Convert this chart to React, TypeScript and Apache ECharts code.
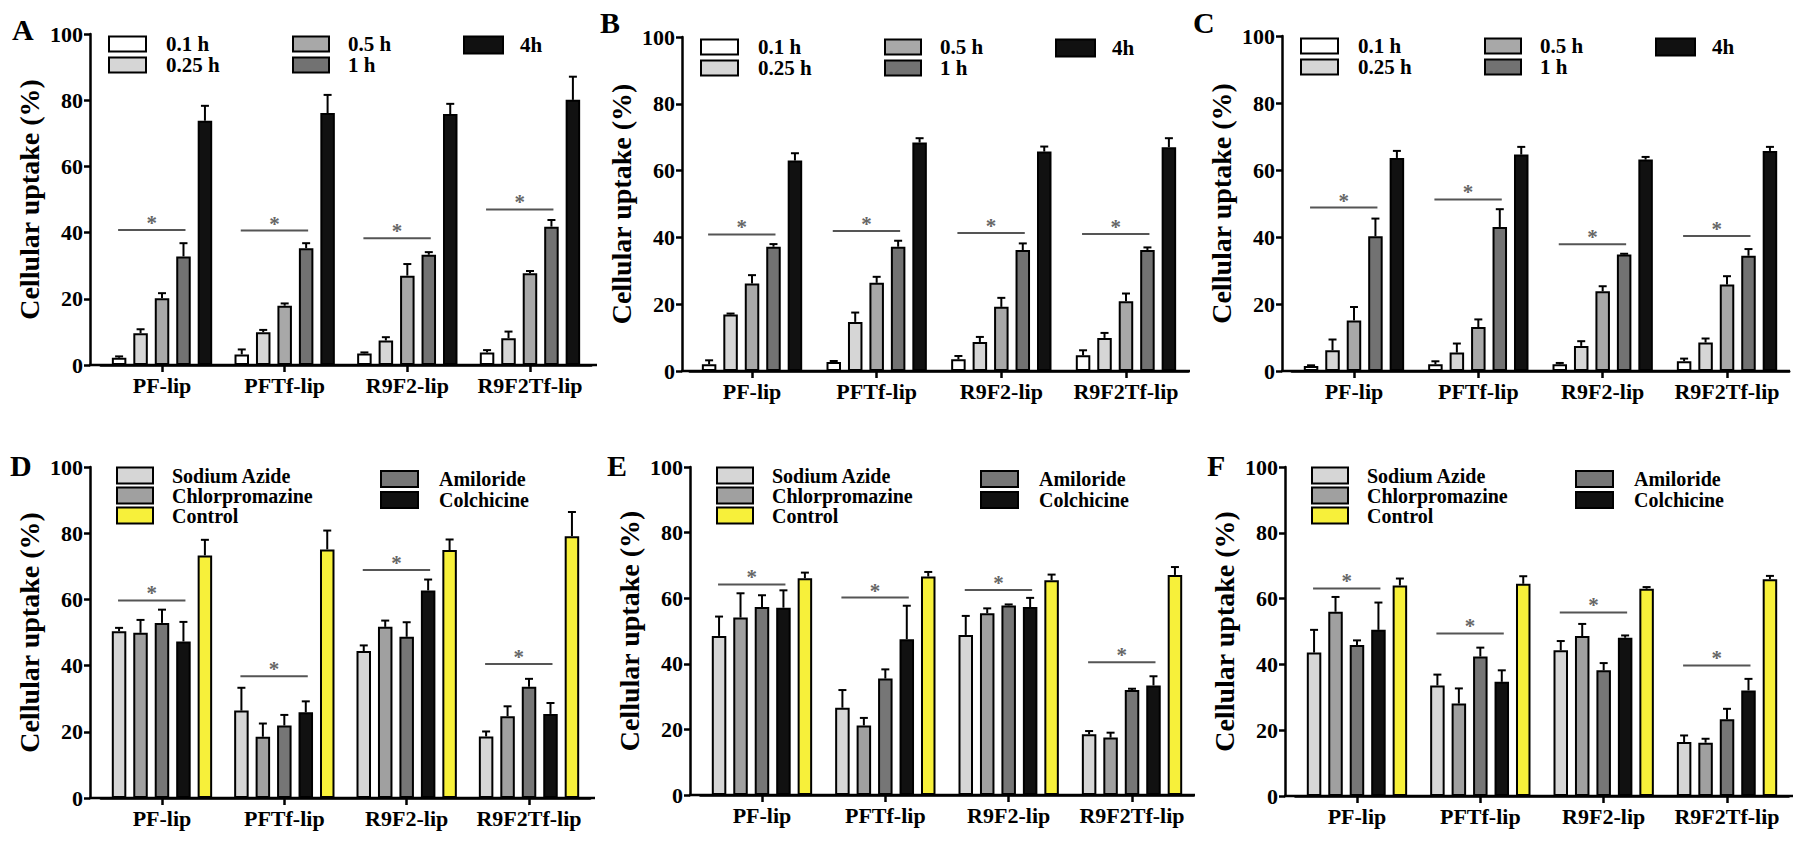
import React, { useEffect, useRef } from "react";
import * as echarts from "echarts";

// ---------- data ----------
const categories = ["PF-lip", "PFTf-lip", "R9F2-lip", "R9F2Tf-lip"];
const timeNames = ["0.1 h", "0.25 h", "0.5 h", "1 h", "4h"];
const inhibitorNames = ["Sodium Azide", "Chlorpromazine", "Amiloride", "Colchicine", "Control"];
const yMin = 0;
const yMax = 100;
const yStep = 20;
const yAxisTitle = "Cellular uptake (%)";
const panelLetters = ["A", "B", "C", "D", "E", "F"];

// Panel A (rows: series, columns: categories)
const aMeans = [
  [2.2, 3.2, 3.5, 3.8],
  [9.6, 9.9, 7.4, 8.1],
  [20.2, 17.9, 27.0, 27.7],
  [32.8, 35.3, 33.3, 41.8],
  [73.8, 76.1, 75.8, 80.1],
];
const aErrors = [
  [0.4, 1.5, 0.3, 0.7],
  [1.2, 0.7, 1.0, 2.0],
  [1.5, 0.7, 3.5, 0.7],
  [4.0, 1.5, 0.8, 2.0],
  [4.5, 5.5, 3.1, 7.0],
];
const aSignificance = [40.8, 40.6, 38.3, 47.0];

// Panel B
const bMeans = [
  [2.0, 2.7, 3.5, 4.7],
  [16.9, 14.7, 8.7, 9.9],
  [26.2, 26.4, 19.2, 20.9],
  [37.2, 37.2, 36.2, 36.2],
  [63.0, 68.4, 65.7, 67.0],
];
const bErrors = [
  [1.2, 0.3, 1.0, 1.5],
  [0.3, 2.8, 1.5, 1.5],
  [2.5, 1.8, 2.7, 2.3],
  [0.8, 1.8, 2.0, 0.8],
  [2.2, 1.3, 1.5, 2.7],
];
const bSignificance = [40.9, 41.9, 41.3, 41.0];

// Panel C
const cMeans = [
  [1.5, 2.0, 2.0, 2.9],
  [6.2, 5.5, 7.5, 8.5],
  [15.1, 13.1, 23.8, 25.8],
  [40.2, 43.0, 34.8, 34.4],
  [63.6, 64.6, 63.1, 65.7],
];
const cErrors = [
  [0.2, 0.9, 0.4, 0.8],
  [3.2, 2.7, 1.4, 1.2],
  [4.0, 2.3, 1.5, 2.5],
  [5.3, 5.3, 0.2, 2.0],
  [2.1, 2.3, 0.8, 1.2],
];
const cSignificance = [48.8, 51.2, 37.8, 40.3];

// Panel D
const dMeans = [
  [50.4, 26.4, 44.4, 18.6],
  [49.9, 18.5, 51.7, 24.7],
  [52.9, 21.9, 48.7, 33.6],
  [47.3, 25.9, 62.7, 25.4],
  [73.3, 75.1, 74.9, 79.1],
];
const dErrors = [
  [1.0, 6.9, 1.7, 1.5],
  [3.9, 4.0, 1.9, 3.0],
  [4.0, 3.2, 4.4, 2.4],
  [5.9, 3.3, 3.3, 3.3],
  [4.7, 5.7, 3.2, 7.3],
];
const dSignificance = [59.7, 36.8, 68.9, 40.5];

// Panel E
const eMeans = [
  [48.5, 26.6, 48.8, 18.5],
  [54.1, 21.2, 55.4, 17.5],
  [57.3, 35.5, 57.8, 32.0],
  [57.1, 47.5, 57.3, 33.4],
  [66.1, 66.6, 65.5, 67.1],
];
const eErrors = [
  [5.9, 5.4, 5.8, 1.0],
  [7.4, 2.3, 1.5, 1.5],
  [3.6, 2.8, 0.3, 0.4],
  [5.3, 10.2, 2.8, 2.8],
  [1.7, 1.4, 1.7, 2.4],
];
const eSignificance = [64.2, 60.2, 62.5, 40.5];

// Panel F
const fMeans = [
  [43.6, 33.6, 44.3, 16.4],
  [56.0, 28.1, 48.6, 16.2],
  [45.9, 42.4, 38.2, 23.3],
  [50.5, 34.7, 48.1, 32.1],
  [64.0, 64.5, 63.0, 65.9],
];
const fErrors = [
  [6.9, 3.3, 2.8, 2.0],
  [4.5, 4.6, 3.7, 1.2],
  [1.4, 2.7, 2.2, 3.2],
  [8.3, 3.5, 0.7, 3.5],
  [2.1, 2.3, 0.5, 1.0],
];
const fSignificance = [63.1, 49.4, 55.8, 39.7];

// ---------- styles & layout ----------
const timeColors = ["#ffffff", "#d6d6d6", "#a8a8a8", "#727272", "#111111"];
const inhibitorColors = ["#d6d6d6", "#a0a0a0", "#767676", "#111111", "#f7f03a"];
const FONT = "'Liberation Serif', 'Times New Roman', Times, serif";
const BAR_WIDTH = 14.5;
const BAR_GAP = 0.48;
const PITCH = BAR_WIDTH * (1 + BAR_GAP);
const CAP = 8;

const layouts = [
  { axisX: 90, axisEnd: 597, top: 34, bottom: 365, left: 100.7, right: 591.3, letterX: 12, letterY: 29 },
  { axisX: 682, axisEnd: 1190, top: 37, bottom: 371, left: 689.7, right: 1188.3, letterX: 600, letterY: 22 },
  { axisX: 1282, axisEnd: 1790, top: 36, bottom: 371, left: 1291.8, right: 1789.2, letterX: 1193, letterY: 22 },
  { axisX: 90, axisEnd: 595, top: 467, bottom: 798, left: 100.8, right: 590.2, letterX: 10, letterY: 465 },
  { axisX: 690, axisEnd: 1195, top: 467, bottom: 795, left: 700.3, right: 1193.7, letterX: 607, letterY: 465 },
  { axisX: 1285, axisEnd: 1793, top: 467, bottom: 796, left: 1295.3, right: 1788.7, letterX: 1207, letterY: 465 },
];

const topLegendCols = [
  { items: [0, 1], swatchDX: 19, swatchW: 37, textDX: 76, rows: [10, 31], h: 15, font: 21 },
  { items: [2, 3], swatchDX: 203, swatchW: 36, textDX: 258, rows: [10, 31], h: 15, font: 21 },
  { items: [4], swatchDX: 374, swatchW: 39, textDX: 430, rows: [11], h: 17, font: 21 },
];
const bottomLegendCols = [
  { items: [0, 1, 4], swatchDX: 27, swatchW: 36, textDX: 82, rows: [8.5, 28.5, 48.5], h: 16, font: 20 },
  { items: [2, 3], swatchDX: 291, swatchW: 37, textDX: 349, rows: [12, 33], h: 16, font: 20 },
];

const panels = [
  { means: aMeans, errors: aErrors, sig: aSignificance, names: timeNames, colors: timeColors, legend: topLegendCols },
  { means: bMeans, errors: bErrors, sig: bSignificance, names: timeNames, colors: timeColors, legend: topLegendCols },
  { means: cMeans, errors: cErrors, sig: cSignificance, names: timeNames, colors: timeColors, legend: topLegendCols },
  { means: dMeans, errors: dErrors, sig: dSignificance, names: inhibitorNames, colors: inhibitorColors, legend: bottomLegendCols },
  { means: eMeans, errors: eErrors, sig: eSignificance, names: inhibitorNames, colors: inhibitorColors, legend: bottomLegendCols },
  { means: fMeans, errors: fErrors, sig: fSignificance, names: inhibitorNames, colors: inhibitorColors, legend: bottomLegendCols },
];

function buildOption() {
  const grid: any[] = [];
  const xAxis: any[] = [];
  const yAxis: any[] = [];
  const series: any[] = [];
  const graphic: any[] = [];

  panels.forEach((p, pi) => {
    const L = layouts[pi];
    grid.push({
      left: L.left,
      width: L.right - L.left,
      top: L.top,
      height: L.bottom - L.top,
      containLabel: false,
      outerBoundsMode: "none",
    });
    xAxis.push({
      type: "category",
      gridIndex: pi,
      data: categories,
      axisLine: { show: true, lineStyle: { color: "#000", width: 2.5 } },
      axisTick: { show: true, alignWithLabel: true, length: 7, lineStyle: { color: "#000", width: 2.5 } },
      axisLabel: {
        interval: 0,
        hideOverlap: false,
        color: "#000",
        fontSize: 22,
        fontWeight: "bold",
        fontFamily: FONT,
        margin: 9,
      },
      splitLine: { show: false },
    });
    yAxis.push({
      type: "value",
      gridIndex: pi,
      min: yMin,
      max: yMax,
      interval: yStep,
      offset: L.left - L.axisX,
      name: yAxisTitle,
      nameLocation: "middle",
      nameGap: 47,
      nameTextStyle: { color: "#000", fontSize: 28, fontWeight: "bold", fontFamily: FONT },
      axisLine: { show: true, lineStyle: { color: "#000", width: 2.5 } },
      axisTick: { show: true, length: 6, lineStyle: { color: "#000", width: 2.5 } },
      axisLabel: { color: "#000", fontSize: 22, fontWeight: "bold", fontFamily: FONT, margin: 7 },
      splitLine: { show: false },
    });

    p.means.forEach((vals, si) => {
      series.push({
        type: "bar",
        name: p.names[si],
        xAxisIndex: pi,
        yAxisIndex: pi,
        data: vals,
        barWidth: BAR_WIDTH,
        barGap: `${BAR_GAP * 100}%`,
        itemStyle: { color: p.colors[si], borderColor: "#000", borderWidth: 2 },
        silent: true,
        z: 2,
      });
      const errs = p.errors[si];
      series.push({
        type: "custom",
        xAxisIndex: pi,
        yAxisIndex: pi,
        silent: true,
        z: 4,
        data: vals.map((m, c) => [c, m, errs[c]]),
        renderItem: (params: any, api: any) => {
          const c = api.value(0);
          const m = api.value(1);
          const e = api.value(2);
          const base = api.coord([c, m]);
          const top = api.coord([c, m + e]);
          const x = base[0] + (si - 2) * PITCH;
          return {
            type: "group",
            children: [
              { type: "line", shape: { x1: x, y1: base[1], x2: x, y2: top[1] }, style: { stroke: "#000", lineWidth: 2 } },
              { type: "line", shape: { x1: x - CAP / 2, y1: top[1], x2: x + CAP / 2, y2: top[1] }, style: { stroke: "#000", lineWidth: 2 } },
            ],
          };
        },
      });
    });

    series.push({
      type: "custom",
      xAxisIndex: pi,
      yAxisIndex: pi,
      silent: true,
      z: 4,
      data: p.sig.map((v, c) => [c, v]),
      renderItem: (params: any, api: any) => {
        const pt = api.coord([api.value(0), api.value(1)]);
        const x1 = pt[0] - 2 * PITCH - 1;
        const x2 = pt[0] + PITCH + 2;
        return {
          type: "group",
          children: [
            { type: "line", shape: { x1, y1: pt[1], x2, y2: pt[1] }, style: { stroke: "#555", lineWidth: 2 } },
            {
              type: "text",
              style: {
                text: "*",
                x: (x1 + x2) / 2,
                y: pt[1] - 7,
                textAlign: "center",
                textVerticalAlign: "middle",
                fill: "#666",
                fontSize: 21,
                fontWeight: "bold",
                fontFamily: FONT,
              },
            },
          ],
        };
      },
    });

    // full-length x baseline (from y axis to end of axis)
    graphic.push({
      type: "line",
      shape: { x1: L.axisX - 1, y1: L.bottom, x2: L.axisEnd, y2: L.bottom },
      style: { stroke: "#000", lineWidth: 2.5 },
      z: 10,
    });

    // panel letter
    graphic.push({
      type: "text",
      x: L.letterX,
      y: L.letterY,
      style: {
        text: panelLetters[pi],
        fill: "#000",
        fontSize: 30,
        fontWeight: "bold",
        fontFamily: FONT,
        textAlign: "left",
        textVerticalAlign: "middle",
      },
    });

    // legend
    p.legend.forEach((col) => {
      col.items.forEach((idx, r) => {
        const cy = L.top + col.rows[r];
        graphic.push({
          type: "rect",
          shape: { x: L.axisX + col.swatchDX, y: cy - col.h / 2, width: col.swatchW, height: col.h },
          style: { fill: p.colors[idx], stroke: "#000", lineWidth: 2 },
          z: 10,
        });
        graphic.push({
          type: "text",
          x: L.axisX + col.textDX,
          y: cy,
          style: {
            text: p.names[idx],
            fill: "#000",
            fontSize: col.font,
            fontWeight: "bold",
            fontFamily: FONT,
            textAlign: "left",
            textVerticalAlign: "middle",
          },
          z: 10,
        });
      });
    });
  });

  return {
    animation: false,
    backgroundColor: "#ffffff",
    grid,
    xAxis,
    yAxis,
    series,
    graphic,
  };
}

export default function App() {
  const ref = useRef<HTMLDivElement>(null);
  useEffect(() => {
    if (!ref.current) return;
    const chart = echarts.init(ref.current, undefined, { renderer: "svg" });
    chart.setOption(buildOption() as any);
    return () => chart.dispose();
  }, []);
  return (
    <div
      ref={ref}
      style={{ position: "fixed", left: 0, top: 0, width: 1800, height: 848, background: "#fff" }}
    />
  );
}
